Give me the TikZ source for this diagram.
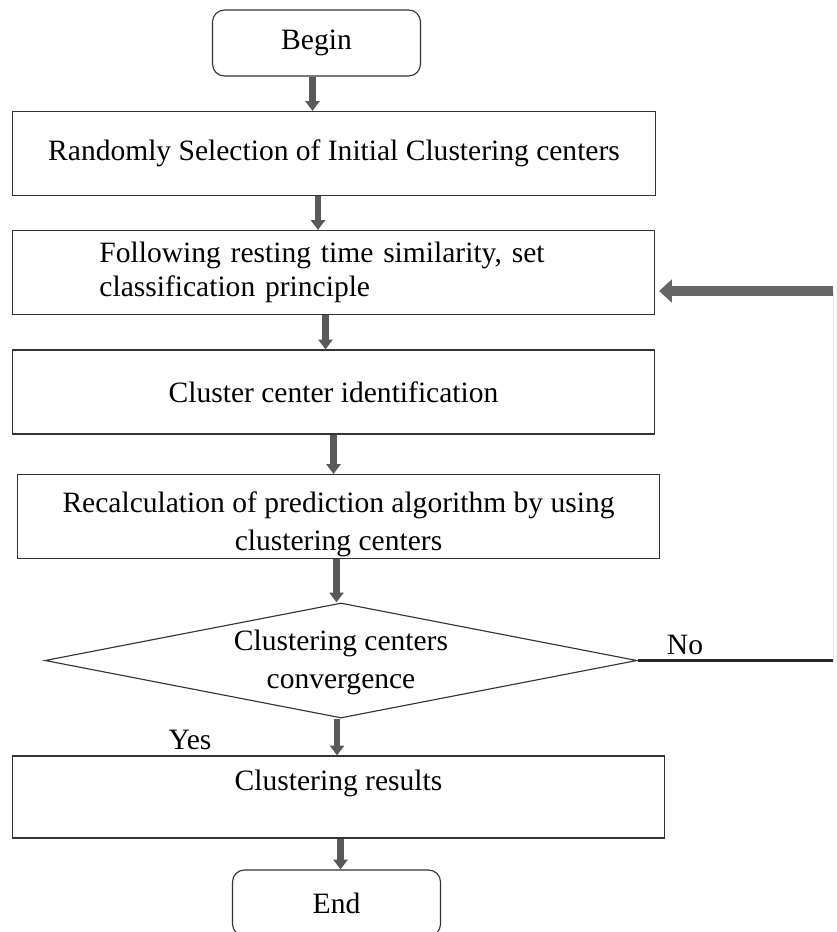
\documentclass[tikz,border=0pt]{standalone}
\usepackage{fontspec}
\setmainfont{Liberation Serif}
\usetikzlibrary{
  arrows.meta,
  calc,
  positioning,
  shapes.geometric
}
\tikzset{
  line cap=round,
  line join=round,
  stepbox/.style={draw=black!80, line width=0.8pt, minimum width=16.05cm, minimum height=2.1cm, align=center, font=\fontsize{21}{24}\selectfont},
  termbox/.style={draw=black!80, line width=0.8pt, rounded corners=0.3cm, minimum width=5.2cm, minimum height=1.65cm, font=\fontsize{21}{24}\selectfont},
  decisionbox/.style={draw=black!80, line width=0.8pt, diamond, aspect=5.15, inner sep=0pt, minimum width=14.8cm, minimum height=2.875cm, align=center, font=\fontsize{21}{24}\selectfont},
  blockarrow/.style={line width=4.5pt, draw=black!65, -{Triangle[length=7pt, width=10pt]}, line cap=butt},
  widearrow/.style={line width=7pt, draw=black!60, -{Triangle[length=9pt, width=16pt]}, line cap=butt},
  branchlabel/.style={font=\fontsize{21}{24}\selectfont}
}
\begin{document}
\begin{tikzpicture}[x=0.025cm, y=-0.025cm]
  \useasboundingbox (0,0) rectangle (836,932);

  \node[termbox] (begin) at (316.5,43) {Begin};
  \node[stepbox] (select) at (334,153.5) {Randomly Selection of Initial Clustering centers};
  \node[stepbox, align=left, text width=11.7cm] (rule) at (333.5,272.5) {Following resting time similarity, set\\classification principle};
  \node[stepbox] (ident) at (333.5,392) {Cluster center identification};
  \node[stepbox, inner ysep=0pt] (recalc) at (338.5,516.5) {\rule{0pt}{0.9cm}Recalculation of prediction algorithm by using\\[0.1cm]clustering centers};
  \node[decisionbox] (conv) at (341,660.5) {\rule{0pt}{0.62cm}Clustering centers\\[0.1cm]convergence};
  \node[stepbox, minimum width=16.3cm, minimum height=2.05cm] (result) at (338.5,797) {Clustering results\rule[-0.85cm]{0pt}{0.85cm}};
  \node[termbox] (end) at (336.5,903) {End};

  \node[branchlabel] (no) at (685,645) {No};
  \node[branchlabel] (yes) at (190,740) {Yes};

  \coordinate (loopdown) at (833,660.5);
  \coordinate (loopup) at (833,291);

  % main flow
  \draw[blockarrow] ([xshift=-0.1cm]begin.south) -- ([xshift=-0.1cm]begin.south |- select.north);
  \draw[blockarrow] ([xshift=-0.4cm]select.south) -- ([xshift=-0.4cm]select.south |- rule.north);
  \draw[blockarrow] ([xshift=-0.2cm]rule.south) -- ([xshift=-0.2cm]rule.south |- ident.north);
  \draw[blockarrow] (ident.south) -- (ident.south |- recalc.north);
  \draw[blockarrow] ([xshift=-0.05cm]recalc.south) -- ([xshift=-0.05cm]recalc.south |- conv.north);
  \draw[blockarrow] ([xshift=-0.1cm]conv.south) -- ([xshift=-0.1cm]conv.south |- result.north);
  \draw[blockarrow] ([xshift=0.05cm]result.south) -- ([xshift=0.05cm]result.south |- end.north);

  % feedback loop
  \draw[line width=2.2pt, black!85] (conv.east) -- (loopdown);
  \draw[line width=0.5pt, black!10] (loopdown) -- (loopup);
  \draw[widearrow, shorten >=0.1cm] (loopup) -- (rule.east |- loopup);
\end{tikzpicture}
\end{document}
